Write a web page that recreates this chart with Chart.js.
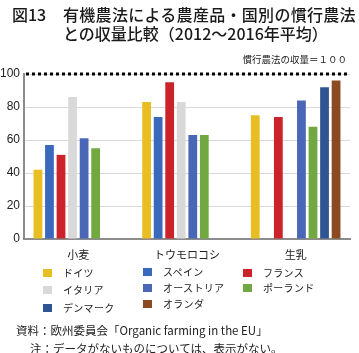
<!DOCTYPE html>
<html lang="ja">
<head>
<meta charset="utf-8">
<script src="https://cdn.jsdelivr.net/npm/chart.js@4/dist/chart.umd.min.js"></script>
<style>
  html, body { margin: 0; padding: 0; background: #fff; }
  #wrap { position: relative; width: 359px; height: 353px; overflow: hidden; font-family: "Noto Sans CJK JP", "Noto Sans", sans-serif; color: #222; }
  #c { position: absolute; left: 0; top: 0; }
  .t { position: absolute; white-space: nowrap; line-height: 1; }
  .title { font-size: 16px; font-weight: 500; color: #1a1a1a; }
  .leg { position: absolute; font-size: 10px; line-height: 1; white-space: nowrap; }
  .leg i { position: absolute; width: 9px; height: 8px; }
  .leg span { position: absolute; letter-spacing: 0.3px; }
</style>
</head>
<body>
<div id="wrap">
  <canvas id="c" width="359" height="353"></canvas>
  <div class="t title" style="left:12px; top:6px;">図13</div>
  <div class="t title" style="left:63px; top:6px; letter-spacing:0.3px;">有機農法による農産品・国別の慣行農法</div>
  <div class="t title" style="left:63px; top:25px;">との収量比較（2012～2016年平均）</div>
  <div class="t" style="right:12px; top:55px; font-size:9.5px;">慣行農法の収量＝１００</div>
  <div id="legend"></div>
  <div class="t" style="left:16px; top:325px; font-size:11.5px;">資料：欧州委員会「Organic farming in the EU」</div>
  <div class="t" style="left:30px; top:343px; font-size:11.5px;">注：データがないものについては、表示がない。</div>
</div>
<script>
// ---- data ----
const categories = ["小麦", "トウモロコシ", "生乳"];
const countries = ["ドイツ", "スペイン", "フランス", "イタリア", "オーストリア", "ポーランド", "デンマーク", "オランダ"];
const germany     = [42, 83, 75];
const spain       = [57, 74, null];
const france      = [51, 95, 74];
const italy       = [86, 83, null];
const austria     = [61, 63, 84];
const poland      = [55, 63, 68];
const denmark     = [null, null, 92];
const netherlands = [null, null, 96];
const yTicks = [0, 20, 40, 60, 80, 100];
const baselineValue = 100;

const seriesValues = [germany, spain, france, italy, austria, poland, denmark, netherlands];
const colors = ["#E8BE23", "#3A68BC", "#CC2229", "#D9D9D9", "#4A66B6", "#72A840", "#2E5592", "#8B4A22"];

// legend layout (3 columns, filled row-wise in dataset order)
const legCols = [43, 143, 243];
const legRows = [[268, 285, 303], [267, 283, 299], [268, 283]];
const legendEl = document.getElementById('legend');
countries.forEach((name, i) => {
  const col = i % 3, row = Math.floor(i / 3);
  const x = legCols[col], y = legRows[col][row];
  const d = document.createElement('div');
  d.className = 'leg';
  d.style.left = x + 'px';
  d.style.top = y + 'px';
  d.innerHTML = '<i style="left:0;top:1px;background:' + colors[i] + '"></i><span style="left:20px;top:0">' + name + '</span>';
  legendEl.appendChild(d);
});

const baselinePlugin = {
  id: 'baseline',
  afterDatasetsDraw(chart) {
    const { ctx, chartArea, scales } = chart;
    const y = scales.y.getPixelForValue(baselineValue);
    ctx.save();
    ctx.strokeStyle = '#000';
    ctx.lineWidth = 3;
    ctx.setLineDash([3, 3]);
    ctx.beginPath();
    ctx.moveTo(chartArea.left + 2, y);
    ctx.lineTo(chartArea.right - 3, y);
    ctx.stroke();
    ctx.restore();
  }
};

new Chart(document.getElementById('c'), {
  type: 'bar',
  data: {
    labels: categories,
    datasets: countries.map((name, i) => ({
      label: name,
      data: seriesValues[i],
      backgroundColor: colors[i],
      borderWidth: 0,
      categoryPercentage: 0.85,
      barPercentage: 0.76
    }))
  },
  options: {
    responsive: false,
    animation: false,
    layout: { padding: { top: 74, left: 0, right: 9, bottom: 0 } },
    plugins: { legend: { display: false }, tooltip: { enabled: false }, title: { display: false } },
    scales: {
      x: {
        grid: { display: false },
        border: { color: '#8c8c8c', width: 2 },
        ticks: { color: '#222', font: { family: '"Noto Sans CJK JP"', size: 11 }, padding: 1, maxRotation: 0 },
        afterFit(s) { s.height = 114; }
      },
      y: {
        min: 0, max: 100,
        afterBuildTicks(s) { s.ticks = yTicks.map(v => ({ value: v })); },
        grid: { color: '#D9D9D9', lineWidth: 1, drawTicks: false },
        border: { color: '#8c8c8c', width: 2 },
        ticks: { color: '#222', font: { family: '"Liberation Sans", Arial', size: 12 }, padding: 4 },
        afterFit(s) { s.width = 24; }
      }
    }
  },
  plugins: [baselinePlugin]
});
</script>
</body>
</html>
